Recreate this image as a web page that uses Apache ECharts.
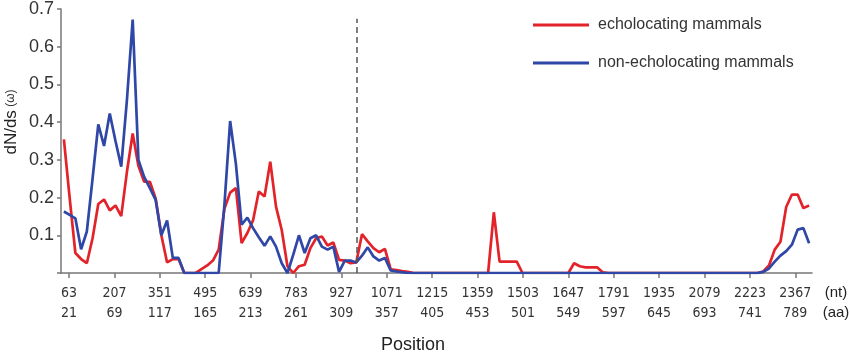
<!DOCTYPE html>
<html>
<head>
<meta charset="utf-8">
<script src="https://cdn.jsdelivr.net/npm/echarts@6/dist/echarts.min.js"></script>
<style>html,body{margin:0;padding:0;background:#fff}#c{width:850px;height:357px}</style>
</head>
<body>
<div id="c"></div>
<script>
// tick labels
const ntTickLabels = [63,207,351,495,639,783,927,1071,1215,1359,1503,1647,1791,1935,2079,2223,2367];
const aaTickLabels = [21,69,117,165,213,261,309,357,405,453,501,549,597,645,693,741,789];
// sliding windows: first window position and step (nt)
const firstWindowNt = 46.8;
const windowStepNt = 18.185;
// boundary between domains (nt)
const boundaryNt = 976;
const seriesNames = ['echolocating mammals', 'non-echolocating mammals'];
// dN/dS values per window
const echolocating = [
  0.354,0.20,0.053,0.037,0.026,0.092,0.183,0.195,0.166,0.179,
  0.151,0.269,0.37,0.284,0.242,0.242,0.198,0.10,0.028,0.037,
  0.037,0,0,0,0.01,0.02,0.033,0.062,0.17,0.213,
  0.225,0.079,0.106,0.14,0.216,0.203,0.295,0.176,0.114,0.018,
  0,0.018,0.022,0.066,0.092,0.097,0.073,0.081,0.035,0.033,
  0.026,0.028,0.103,0.084,0.066,0.055,0.064,0.01,0.008,0.005,
  0.003,0,0,0,0,0,0,0,0,0,
  0,0,0,0,0,0.161,0.03,0.03,0.03,0.03,
  0,0,0,0,0,0,0,0,0,0.026,
  0.018,0.015,0.015,0.015,0.002,0,0,0,0,0,
  0,0,0,0,0,0,0,0,0,0,
  0,0,0,0,0,0,0,0,0,0,
  0,0,0.004,0.02,0.062,0.083,0.175,0.208,0.208,0.172,
  0.179
];
const nonEcholocating = [
  0.163,0.154,0.145,0.063,0.11,0.25,0.394,0.337,0.423,0.35,
  0.282,0.46,0.672,0.30,0.255,0.225,0.194,0.10,0.139,0.04,
  0.04,0,0,0,0,0,0,0,0.18,0.403,
  0.29,0.128,0.147,0.119,0.095,0.072,0.097,0.07,0.026,0,
  0.048,0.10,0.053,0.092,0.10,0.07,0.062,0.07,0.003,0.033,
  0.033,0.028,0.046,0.068,0.044,0.033,0.04,0.007,0.004,0.002,
  0,0,0,0,0,0,0,0,0,0,
  0,0,0,0,0,0,0,0,0,0,
  0,0,0,0,0,0,0,0,0,0,
  0,0,0,0,0,0,0,0,0,0,
  0,0,0,0,0,0,0,0,0,0,
  0,0,0,0,0,0,0,0,0,0,
  0,0,0.003,0.012,0.03,0.046,0.058,0.075,0.115,0.119,
  0.079
];

const windowPos = echolocating.map((_, i) => firstWindowNt + windowStepNt * i);
const pairs = vals => vals.map((v, i) => [windowPos[i], v]);

const RED = '#e3232a', BLUE = '#2f47a6';
const narrow = "'Liberation Sans Narrow','DejaVu Sans Condensed','Liberation Sans',sans-serif";
const sans = "'Liberation Sans',Arial,sans-serif";

const chart = echarts.init(document.getElementById('c'), null, {renderer: 'canvas'});
chart.setOption({
  animation: false,
  backgroundColor: '#fff',
  grid: {left: 61, right: 38, top: 8, bottom: 84},
  legend: {
    data: seriesNames,
    orient: 'vertical',
    left: 533, top: 15, padding: 0,
    icon: 'rect', itemWidth: 56, itemHeight: 3, itemGap: 18,
    textStyle: {fontFamily: sans, fontSize: 16, color: '#333', lineHeight: 20, padding: [0, 0, 0, 4]}
  },
  xAxis: {
    type: 'value', min: 37.6, max: 2420,
    splitLine: {show: false},
    axisLine: {lineStyle: {color: '#777', width: 1.5}},
    axisTick: {customValues: ntTickLabels, length: 5, lineStyle: {color: '#777', width: 1.5}},
    axisLabel: {
      customValues: ntTickLabels,
      margin: 10,
      formatter: v => {
        const k = ntTickLabels.indexOf(Math.round(v));
        return '{nt|' + ntTickLabels[k] + '}\n{aa|' + aaTickLabels[k] + '}';
      },
      rich: {
        nt: {fontFamily: narrow, fontSize: 14, color: '#333', lineHeight: 20},
        aa: {fontFamily: narrow, fontSize: 14, color: '#333', lineHeight: 20}
      }
    }
  },
  yAxis: {
    type: 'value', min: 0, max: 0.7, interval: 0.1,
    splitLine: {show: false},
    axisLine: {show: true, lineStyle: {color: '#777', width: 1.5}},
    axisTick: {show: true, length: 4, lineStyle: {color: '#777', width: 1.5}},
    axisLabel: {
      margin: 7, fontFamily: sans, fontSize: 18, color: '#333',
      formatter: v => (v === 0 ? '' : v.toFixed(1))
    }
  },
  series: [
    {
      name: seriesNames[0], type: 'line', data: pairs(echolocating),
      showSymbol: false, color: RED, lineStyle: {color: RED, width: 2.7}, z: 2
    },
    {
      name: seriesNames[1], type: 'line', data: pairs(nonEcholocating),
      showSymbol: false, color: BLUE, lineStyle: {color: BLUE, width: 2.7}, z: 3,
      markLine: {
        silent: true, symbol: 'none', label: {show: false},
        lineStyle: {color: '#555', type: [6, 4], width: 1.5},
        data: [[{coord: [boundaryNt, 0]}, {coord: [boundaryNt, 0.674]}]]
      }
    }
  ],
  graphic: [
    {type: 'text', x: 11, y: 122, rotation: Math.PI / 2,
     style: {text: '{a|dN/ds} {b|(ω)}', align: 'center', verticalAlign: 'middle',
       rich: {a: {fontFamily: sans, fontSize: 17, fill: '#222'}, b: {fontFamily: sans, fontSize: 12, fill: '#333'}}}},
    {type: 'text', x: 836, y: 293,
     style: {text: '(nt)', fontFamily: sans, fontSize: 15, fill: '#222', align: 'center', verticalAlign: 'middle'}},
    {type: 'text', x: 836, y: 313,
     style: {text: '(aa)', fontFamily: sans, fontSize: 15, fill: '#222', align: 'center', verticalAlign: 'middle'}},
    {type: 'text', x: 413, y: 345,
     style: {text: 'Position', fontFamily: sans, fontSize: 18, fill: '#222', align: 'center', verticalAlign: 'middle'}}
  ]
});
</script>
</body>
</html>
